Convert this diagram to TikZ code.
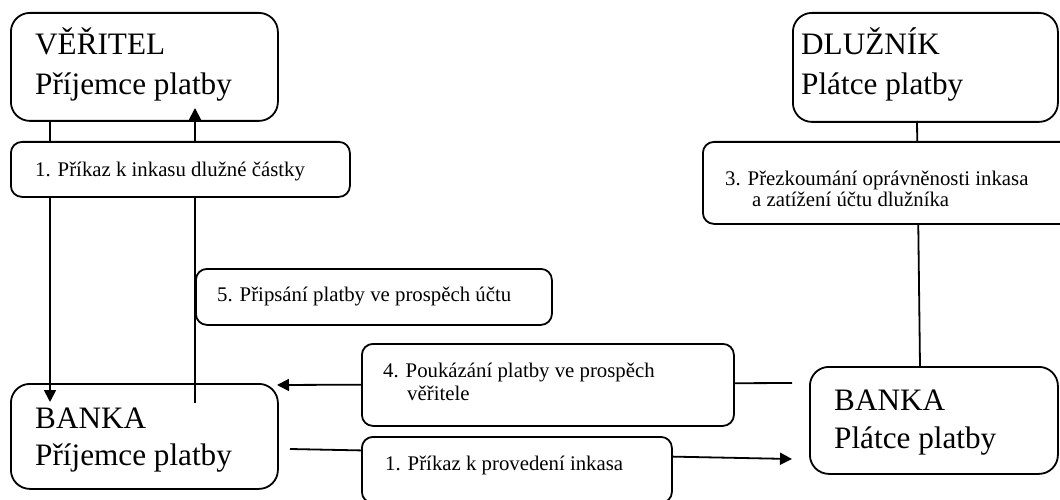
\documentclass[tikz,border=0pt]{standalone}
\usepackage{fontspec}
\setmainfont{Liberation Serif}
\usetikzlibrary{arrows.meta}
\tikzset{
  party/.style={draw, line width=1.8pt, rounded corners=19pt, fill=white,
    inner sep=0pt, anchor=north west},
  stepbox/.style={draw, line width=1.8pt, rounded corners=11pt, fill=white,
    inner sep=0pt, anchor=north west},
  bigtxt/.style={inner sep=0pt, anchor=base west, font=\fontsize{31.2}{40}\selectfont},
  smalltxt/.style={inner sep=0pt, anchor=base west, font=\fontsize{20.8}{22}\selectfont},
  link/.style={line width=1.8pt},
  flow/.style={link, -{Triangle[length=12pt,width=12pt]}},
}
\begin{document}
\begin{tikzpicture}[x=1pt,y=-1pt]
\useasboundingbox (0,0) rectangle (1060,500);
\clip (0,0) rectangle (1060,500);

% parties: creditor, debtor and their banks
\node[party, minimum width=267pt, minimum height=108pt] (ver) at (10,12) {};
\node[party, minimum width=265pt, minimum height=109pt] (dluz) at (792,12) {};
\node[party, minimum width=267pt, minimum height=105pt] (bpr) at (10,383) {};
\node[party, minimum width=248pt, minimum height=107pt] (bpl) at (809,366) {};

% end points of the flows
\coordinate (v1) at (50,120);
\coordinate (b1) at (50,402);
\coordinate (b5) at (195,403);
\coordinate (v5) at (195,108);
\coordinate (d3) at (917,121);
\coordinate (p3) at (920,366);
\coordinate (p4) at (792,383);
\coordinate (r4) at (277,385);
\coordinate (r1) at (290,449);
\coordinate (p1) at (792,459);

% flows
\draw[flow] (v1) -- (b1);
\draw[flow] (b5) -- (v5);
\draw[link] (d3) -- (p3);
\draw[flow] (p4) -- (r4);
\draw[flow] (r1) -- (p1);

% step labels
\node[stepbox, minimum width=339pt, minimum height=55pt] (s1) at (10,141) {};
\node[stepbox, minimum width=375pt, minimum height=82pt] (s3) at (702,141) {};
\node[stepbox, minimum width=356pt, minimum height=56pt] (s5) at (195,268) {};
\node[stepbox, minimum width=372pt, minimum height=82pt] (s4) at (361,343) {};
\node[stepbox, minimum width=310pt, minimum height=66pt] (s1b) at (361,436) {};

% texts
\node[bigtxt] (tver1) at (35,55) {VĚŘITEL};
\node[bigtxt] (tver2) at (35,95) {Příjemce platby};
\node[bigtxt] (tdl1) at (801,55) {DLUŽNÍK};
\node[bigtxt] (tdl2) at (801,95) {Plátce platby};
\node[bigtxt] (tbr1) at (35,428) {BANKA};
\node[bigtxt] (tbr2) at (35,465) {Příjemce platby};
\node[bigtxt] (tbp1) at (834,410) {BANKA};
\node[bigtxt] (tbp2) at (834,448) {Plátce platby};

\node[smalltxt] (ts1) at (35,176) {1. Příkaz k inkasu dlužné částky};
\node[smalltxt] (ts3a) at (725,185) {3. Přezkoumání oprávněnosti inkasa};
\node[smalltxt] (ts3b) at (752,206) {a zatížení účtu dlužníka};
\node[smalltxt] (ts5) at (217,301) {5. Připsání platby ve prospěch účtu};
\node[smalltxt] (ts4a) at (383,377) {4. Poukázání platby ve prospěch};
\node[smalltxt] (ts4b) at (407,400) {věřitele};
\node[smalltxt] (ts1b) at (385,470) {1. Příkaz k provedení inkasa};
\end{tikzpicture}
\end{document}
